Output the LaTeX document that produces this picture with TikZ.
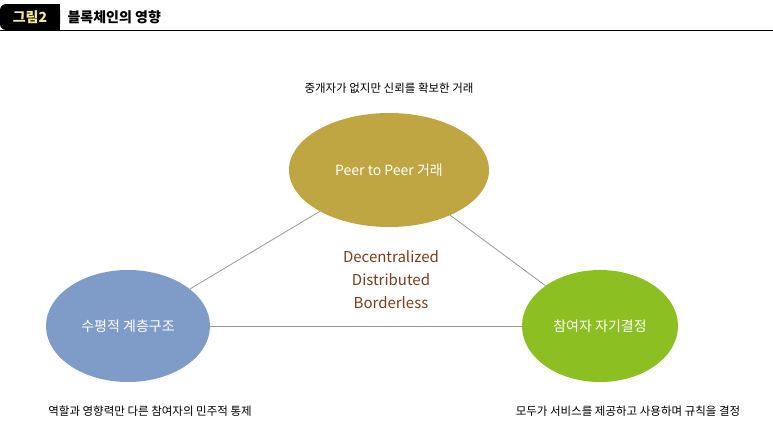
\documentclass[tikz,border=0pt]{standalone}
\usepackage{fontspec}
\setmainfont{Noto Sans CJK KR}
\usetikzlibrary{shapes.geometric}
\definecolor{olivec}{HTML}{BFA643}
\definecolor{bluec}{HTML}{7F9CC8}
\definecolor{greenc}{HTML}{8CC022}
\definecolor{brownc}{HTML}{7A3E1C}
\definecolor{tabyel}{HTML}{F5E79A}
\tikzset{
 blob/.style={ellipse,inner sep=0pt,text=white,font=\fontsize{14}{16}\selectfont},
 link/.style={draw=gray!80,line width=0.8pt},
 captext/.style={font=\fontsize{11.5}{13}\selectfont,text=black},
}
\begin{document}
\begin{tikzpicture}[x=1pt,y=-1pt]
\useasboundingbox (0,0) rectangle (773,434);
\fill[black,rounded corners=6pt] (0,4) rectangle (60,30);
\fill[black] (40,4) rectangle (60,30);
\draw[black,line width=1pt] (0,30) -- (773,30);
\node[text=tabyel,font=\bfseries\fontsize{14}{16}\selectfont] (tab) at (30,17) {그림2};
\node[anchor=west,font=\bfseries\fontsize{14}{16}\selectfont] (title) at (64,17) {블록체인의 영향};
\node[blob,fill=olivec,minimum width=200,minimum height=114] (top) at (389,170) {Peer to Peer 거래};
\node[blob,fill=bluec,minimum width=164,minimum height=112] (left) at (128,326) {수평적 계층구조};
\node[blob,fill=greenc,minimum width=156,minimum height=112] (right) at (600,326) {참여자 자기결정};
\draw[link] (top) -- (left);
\draw[link] (top) -- (right);
\draw[link] (left) -- (right);
\node[text=brownc,font=\fontsize{15}{23}\selectfont,align=center] (mid) at (391,280) {Decentralized\\Distributed\\Borderless};
\node[captext] (ct) at (389,88) {중개자가 없지만 신뢰를 확보한 거래};
\node[captext] (cl) at (150,411) {역할과 영향력만 다른 참여자의 민주적 통제};
\node[captext] (cr) at (628,411) {모두가 서비스를 제공하고 사용하며 규칙을 결정};
\end{tikzpicture}
\end{document}
